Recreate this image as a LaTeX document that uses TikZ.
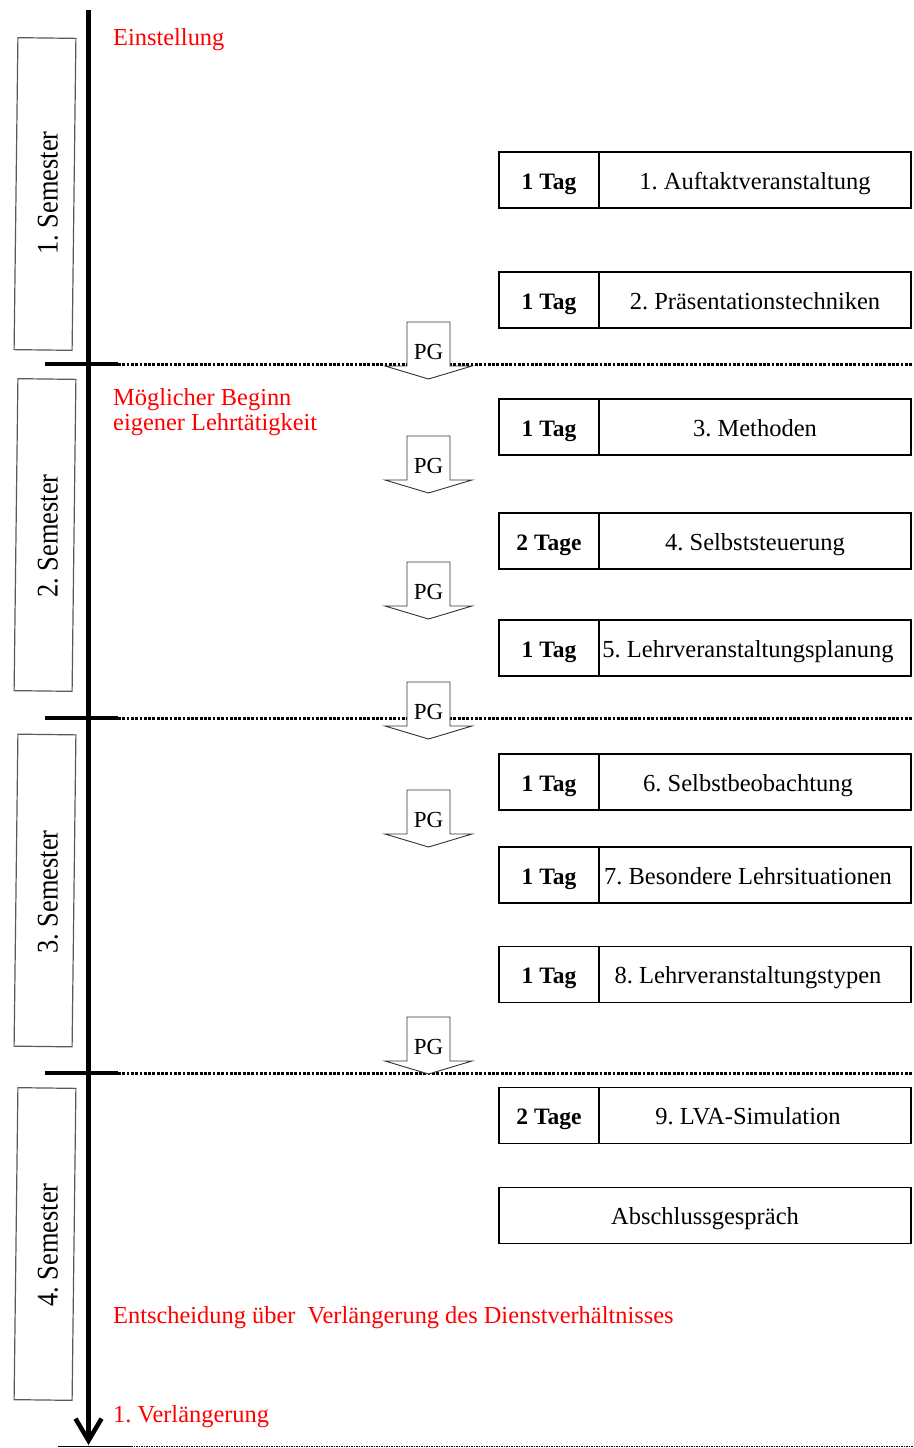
\documentclass[tikz,border=0pt]{standalone}
\usepackage{fontspec}
\setmainfont{Liberation Serif}
\usetikzlibrary{arrows.meta}
\frenchspacing
\tikzset{
  cell/.style={draw, line width=1.2pt, minimum height=56pt, inner sep=0pt,
    text height=18pt, text depth=0pt, font=\fontsize{24.5}{28}\selectfont},
  dur/.style={cell, minimum width=100pt, font=\bfseries\fontsize{23.5}{28}\selectfont},
  ttl/.style={cell, minimum width=312pt},
  redlbl/.style={text=red, inner sep=0pt, font=\fontsize{24.4}{28}\selectfont},
  semtext/.style={inner sep=0pt, rotate=90},
  sembox/.style={draw=black!65, line width=1.2pt, minimum width=312pt, minimum height=58pt,
    inner sep=0pt, rotate=89.3},
  pgarrow/.style={draw=black!80, fill=white, line width=0.9pt},
  pgtext/.style={inner sep=0pt, font=\fontsize{23}{26}\selectfont},
  sepsolid/.style={line width=3.5pt},
  sepdots/.style={line width=3pt, dash pattern=on 2.8pt off 1.5pt},
}
\begin{document}
\begin{tikzpicture}[x=1pt,y=-1pt]
\useasboundingbox (0,0) rectangle (913,1448);

% semester boxes
\node[sembox] (sb1) at (45,194) {};
\node[sembox] (sb2) at (45,535) {};
\node[sembox] (sb3) at (45,890.5) {};
\node[sembox] (sb4) at (45,1244) {};
\foreach \yc/\n in {193/1, 536/2, 892/3, 1245/4} {
  \node[semtext] (sem\n) at (48,\yc) {\scalebox{0.88}[1]{\fontsize{30}{30}\selectfont \n. Semester}};
}

% separators
\foreach \y in {364,718,1073} {
  \draw[sepsolid] (45,\y) -- (118,\y);
  \draw[sepdots] (118,\y) -- (913,\y);
}
\draw[line width=1.2pt] (58,1446.5) -- (131,1446.5);
\draw[line width=1pt, dash pattern=on 1.5pt off 1pt] (131,1446.5) -- (913,1446.5);

% main axis
\coordinate (axtop) at (88.5,10);
\coordinate (axbot) at (88.5,1445);
\draw[line width=4.5pt, -{Straight Barb[length=22pt,width=26pt]}] (axtop) -- (axbot);

% PG arrows
\foreach \t [count=\i] in {322,436,562,682,790,1017} {
  \draw[pgarrow] (407,\t) -- (450,\t) -- (450,\t+44) -- (472,\t+44) -- (428.5,\t+57)
     -- (385,\t+44) -- (407,\t+44) -- cycle;
  \node[pgtext, anchor=base] (pg\i) at (428.5,\t+37) {PG};
}

% red labels
\node[redlbl, anchor=base west] (einst) at (113,45) {Einstellung};
\node[redlbl, anchor=base west] (moeg1) at (113,405) {Möglicher Beginn};
\node[redlbl, anchor=base west] (moeg2) at (113,430) {eigener Lehrtätigkeit};
\node[redlbl, anchor=base west] (entsch) at (113,1323) {Entscheidung über\ \ Verlängerung des Dienstverhältnisses};
\node[redlbl, anchor=base west] (verl) at (113,1422) {1. Verlängerung};

% course boxes
\foreach \yc/\d/\tt/\s [count=\i] in {
  180/1 Tag/1. Auftaktveranstaltung/0,
  300/1 Tag/2. Präsentationstechniken/0,
  427/1 Tag/3. Methoden/0,
  541/2 Tage/4. Selbststeuerung/0,
  648/1 Tag/5. Lehrveranstaltungsplanung/14,
  782/1 Tag/6. Selbstbeobachtung/14,
  875/1 Tag/7. Besondere Lehrsituationen/14,
  974.5/1 Tag/8. Lehrveranstaltungstypen/14,
  1115.5/2 Tage/9. LVA-Simulation/14} {
  \node[dur] (d\i) at (549,\yc) {\d};
  \node[ttl] (t\i) at (755,\yc) {\tt\hspace*{\s pt}};
}
\node[cell, minimum width=412pt] (absch) at (705,1215.5) {Abschlussgespräch};
\end{tikzpicture}
\end{document}
